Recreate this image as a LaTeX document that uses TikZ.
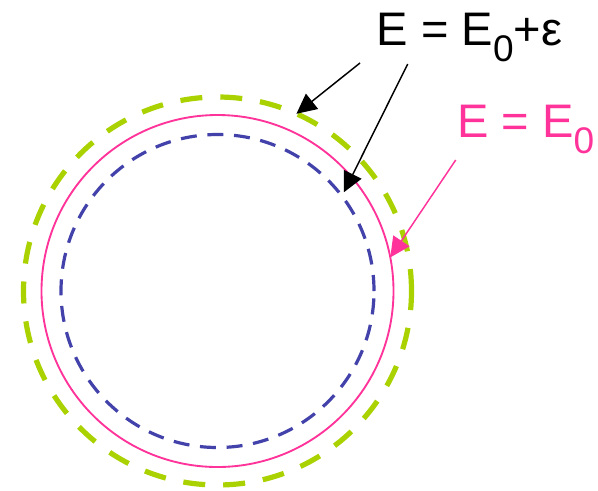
\documentclass[tikz,border=0pt]{standalone}
\usepackage{fontspec}
\setmainfont{Liberation Sans}
\usetikzlibrary{arrows.meta,calc}
\definecolor{ygreen}{RGB}{170,210,0}
\definecolor{hpink}{RGB}{255,51,153}
\definecolor{dblue}{RGB}{66,66,170}
\newcommand{\bigtxt}{\fontsize{35.3}{40}\selectfont}
\newcommand{\subz}{\raisebox{-12.5pt}{\fontsize{27.8}{30}\selectfont 0}}
\begin{document}
\begin{tikzpicture}[x=0.75pt,y=-0.75pt,
  ring/.style={circle,inner sep=0pt,outer sep=0pt},
  lab/.style={anchor=base west,inner sep=0pt,font=\bigtxt},
  pointer/.style={-{Triangle[length=15pt,width=14.5pt]},line width=1.1pt}]
\useasboundingbox (0,0) rectangle (598,490);
\coordinate (c) at (217.5,291);
\node[ring,draw=ygreen,line width=3.9pt,minimum size=291pt,dash pattern=on 16.5pt off 13.5pt] (green) at (c) {};
\node[ring,draw=hpink,line width=1.4pt,minimum size=264pt] (pink) at (c) {};
\node[ring,draw=dblue,line width=2.4pt,minimum size=234.75pt,dash pattern=on 12pt off 8pt] (blue) at (c) {};
\node[lab] (lab1) at (376.3,45) {E = E\subz+ε};
\node[lab,text=hpink] (lab2) at (456.8,137) {E = E\subz};
\coordinate (t1) at (360,63);
\coordinate (t2) at (407.7,64);
\coordinate (t3) at (455.7,160);
\draw[pointer] (t1) -- (green.66);
\draw[pointer] (t2) -- ($(blue.center)!1.025!(blue.38)$);
\draw[pointer,draw=hpink,fill=hpink] (t3) -- (pink.11.4);
\end{tikzpicture}
\end{document}
